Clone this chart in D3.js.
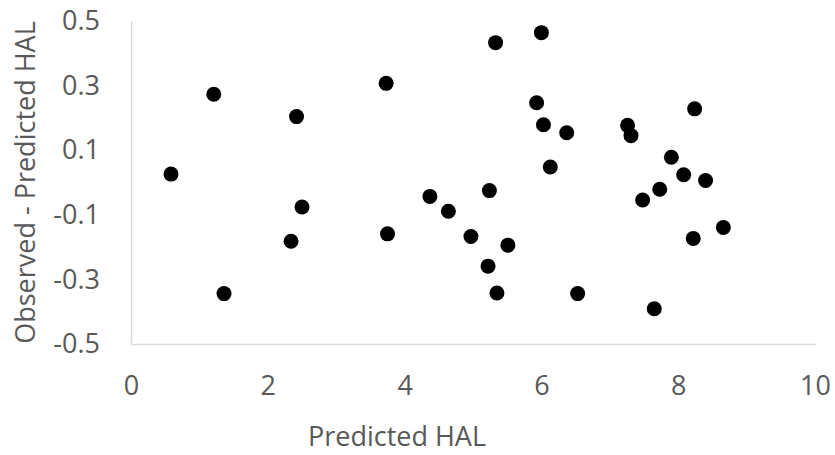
<!DOCTYPE html>
<html>
<head>
<meta charset="utf-8">
<script src="https://cdn.jsdelivr.net/npm/d3@7"></script>
<style>
  body { margin: 0; background: #fff; }
  svg text { font-family: "Open Sans", sans-serif; fill: #595959; }
</style>
</head>
<body>
<svg id="chart"></svg>
<script>
// predicted HAL (x) vs residual observed - predicted (y)
var predicted = [0.585, 1.21, 1.36, 2.42, 2.34, 2.50, 3.73, 3.75, 4.37, 4.64, 4.97,
                 5.22, 5.24, 5.33, 5.35, 5.51, 5.93, 6.00, 6.03, 6.13, 6.37, 6.53,
                 7.26, 7.31, 7.48, 7.65, 7.73, 7.90, 8.08, 8.22, 8.24, 8.40, 8.66];
var residual = [0.026, 0.273, -0.344, 0.204, -0.182, -0.076, 0.307, -0.159, -0.043, -0.089, -0.167,
                -0.259, -0.025, 0.433, -0.342, -0.194, 0.247, 0.464, 0.179, 0.048, 0.154, -0.344,
                0.177, 0.145, -0.054, -0.391, -0.021, 0.078, 0.024, -0.173, 0.228, 0.006, -0.139];
var xTicks = [0, 2, 4, 6, 8, 10];
var yTicks = [-0.5, -0.3, -0.1, 0.1, 0.3, 0.5];

var width = 835, height = 455;
var margin = {top: 21, right: 20, bottom: 111, left: 131};

var svg = d3.select("#chart").attr("width", width).attr("height", height);

var x = d3.scaleLinear().domain([0, 10]).range([margin.left, width - margin.right]);
var y = d3.scaleLinear().domain([-0.5, 0.5]).range([height - margin.bottom, margin.top]);

// x axis
var gx = svg.append("g")
  .attr("transform", "translate(0," + (height - margin.bottom) + ")")
  .call(d3.axisBottom(x).tickValues(xTicks).tickSize(0).tickPadding(32).tickFormat(function(d){ return String(d); }));
gx.select(".domain").attr("stroke", "#d9d9d9").attr("stroke-width", 1.5);
gx.selectAll("text").style("font-size", "27px").attr("fill", "#595959");

// y axis (plain hyphen for negatives, like the original)
var gy = svg.append("g")
  .attr("transform", "translate(" + margin.left + ",0)")
  .call(d3.axisLeft(y).tickValues(yTicks).tickSize(0).tickPadding(31).tickFormat(function(d){ return d.toFixed(1); }));
gy.select(".domain").attr("stroke", "#d9d9d9").attr("stroke-width", 1.5);
gy.selectAll("text").style("font-size", "27px").attr("fill", "#595959");

// points
var pts = d3.range(predicted.length).map(function(i){ return [predicted[i], residual[i]]; });
svg.append("g").selectAll("circle")
  .data(pts)
  .enter()
  .append("circle")
  .attr("cx", function(d){ return x(d[0]); })
  .attr("cy", function(d){ return y(d[1]); })
  .attr("r", 7.5)
  .attr("fill", "#000");

// axis titles
svg.append("text")
  .attr("x", 397).attr("y", 446)
  .attr("text-anchor", "middle")
  .style("font-size", "27px")
  .text("Predicted HAL");

svg.append("text")
  .attr("transform", "translate(35," + ((margin.top + height - margin.bottom) / 2) + ") rotate(-90)")
  .attr("text-anchor", "middle")
  .style("font-size", "27px")
  .text("Observed - Predicted HAL");
</script>
</body>
</html>
